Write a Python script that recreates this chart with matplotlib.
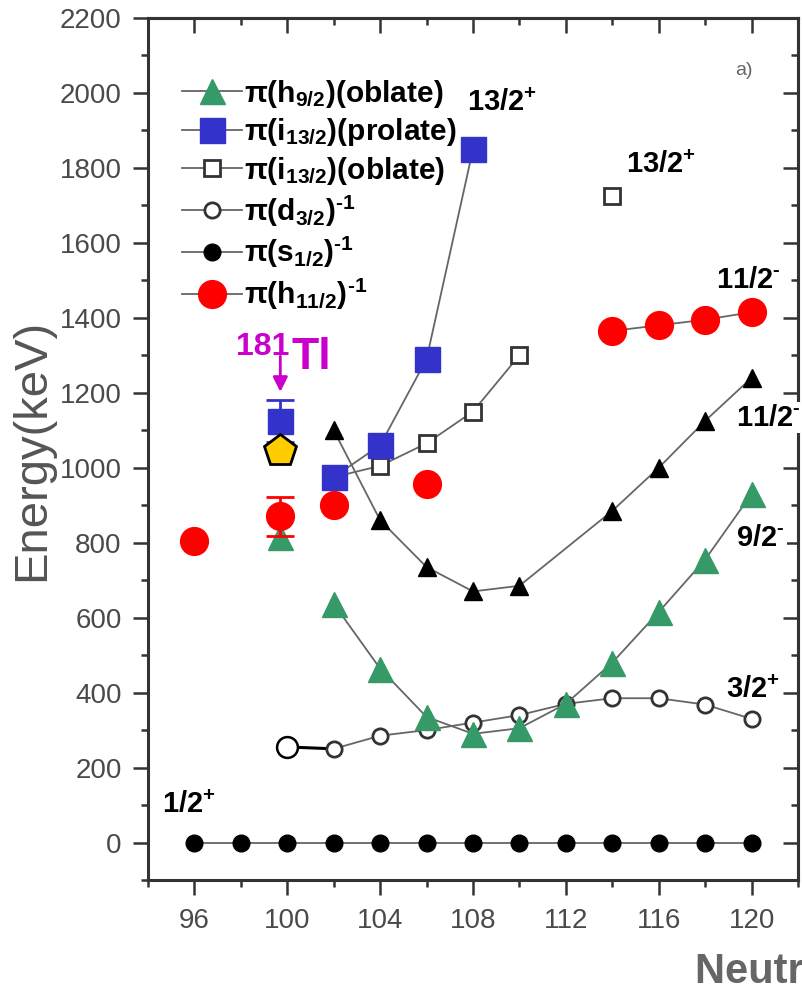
import matplotlib
matplotlib.use("Agg")
import matplotlib.pyplot as plt
from matplotlib.lines import Line2D
from matplotlib.ticker import MultipleLocator

plt.rcParams['mathtext.fontset'] = 'custom'
plt.rcParams['mathtext.rm'] = 'Liberation Sans:bold'
plt.rcParams['mathtext.it'] = 'Liberation Sans:bold'
plt.rcParams['mathtext.bf'] = 'Liberation Sans:bold'
plt.rcParams['mathtext.default'] = 'rm'

# systematics of proton intruder / hole states in odd-Tl isotopes
n_s12 = [96, 98, 100, 102, 104, 106, 108, 110, 112, 114, 116, 118, 120]
e_s12 = [0, 0, 0, 0, 0, 0, 0, 0, 0, 0, 0, 0, 0]

n_d32 = [102, 104, 106, 108, 110, 112, 114, 116, 118, 120]
e_d32 = [250, 285, 300, 320, 340, 370, 385, 385, 368, 330]
n_d32_181 = [100, 102]
e_d32_181 = [255, 250]

n_h92 = [102, 104, 106, 108, 110, 112, 114, 116, 118, 120]
e_h92 = [637, 464, 335, 290, 305, 370, 480, 615, 755, 930]

n_i13p = [102, 104, 106, 108]
e_i13p = [975, 1060, 1290, 1850]

n_i13o = [102, 104, 106, 108, 110]
e_i13o = [975, 1005, 1065, 1150, 1300]
n_i13o_iso = [114]
e_i13o_iso = [1725]

n_h112 = [114, 116, 118, 120]
e_h112 = [1365, 1380, 1395, 1415]
n_h112_iso = [96, 102, 106]
e_h112_iso = [805, 900, 957]

n_112m = [102, 104, 106, 108, 110, 114, 116, 118, 120]
e_112m = [1100, 860, 735, 670, 685, 885, 1000, 1125, 1240]

# 181Tl values
n_tl = 99.7
e_tl_i13, err_tl_i13 = 1125, 55
e_tl_pent = 1045
e_tl_h112, err_tl_h112 = 870, 53
e_tl_h92 = 815

GREEN = '#359a67'
BLUE = '#3333cc'
RED = '#ff0000'
MAG = '#cc00cc'
LINE = '#666666'
AXC = '#333333'
HY = '\u2010'  # short hyphen for negative parity

fig = plt.figure(figsize=(8.03, 9.94), dpi=100)
ax = fig.add_axes([148 / 803, 1 - 880 / 994, 650 / 803, 862 / 994])

ax.plot(n_s12, e_s12, '-o', color=LINE, lw=1.3, mfc='black', mec='black', ms=12, zorder=3)
ax.plot(n_d32_181, e_d32_181, '-', color='black', lw=2.2, zorder=3)
ax.plot(n_d32_181[:1], e_d32_181[:1], 'o', mfc='white', mec='black', mew=1.8, ms=15, zorder=4)
ax.plot(n_d32, e_d32, '-o', color=LINE, lw=1.3, mfc='white', mec='#333333', mew=2, ms=11, zorder=3)
ax.plot(n_112m, e_112m, '-^', color=LINE, lw=1.3, mfc='black', mec='black', ms=13, zorder=3)
ax.plot(n_i13o, e_i13o, '-s', color=LINE, lw=1.3, mfc='white', mec='#333333', mew=2, ms=11, zorder=3)
ax.plot(n_i13o_iso, e_i13o_iso, 's', mfc='white', mec='#333333', mew=2, ms=11, zorder=3)
ax.plot(n_h92, e_h92, '-^', color=LINE, lw=1.3, mfc=GREEN, mec=GREEN, ms=18, zorder=3)
ax.plot(n_i13p, e_i13p, '-s', color=LINE, lw=1.3, mfc=BLUE, mec=BLUE, ms=18, zorder=3)
ax.plot(n_h112, e_h112, '-o', color=LINE, lw=1.3, mfc=RED, mec=RED, ms=20, zorder=3)
ax.plot(n_h112_iso, e_h112_iso, 'o', mfc=RED, mec=RED, ms=20, zorder=3)

# 181Tl points with error bars
ax.plot([n_tl], [e_tl_h92], '^', mfc=GREEN, mec=GREEN, ms=18, zorder=3)
ax.errorbar([n_tl], [e_tl_i13], yerr=[err_tl_i13], fmt='s', color=BLUE, ms=18,
            capsize=10, capthick=2, elinewidth=2, zorder=4)
ax.errorbar([n_tl], [e_tl_h112], yerr=[err_tl_h112], fmt='o', color=RED, ms=20,
            capsize=10, capthick=2, elinewidth=2, zorder=4)
ax.plot([n_tl], [e_tl_pent], 'p', mfc='#ffcc00', mec='black', mew=2, ms=24, zorder=5)

ax.annotate('', xy=(n_tl, 1195), xytext=(n_tl, 1305),
            arrowprops=dict(arrowstyle='-|>', color=MAG, lw=2, mutation_scale=22))
ax.text(97.8, 1323, '181', color=MAG, fontsize=23, fontweight='bold',
        family='Liberation Sans', va='center', ha='left')
ax.text(100.2, 1293, 'Tl', color=MAG, fontsize=32, fontweight='bold',
        family='Liberation Sans', va='center', ha='left')

lvl = dict(fontsize=21, fontweight='bold', family='Liberation Sans', color='black',
           va='center', ha='left', zorder=6, clip_on=False,
           bbox=dict(fc='white', ec='none', pad=1))
ax.text(107.75, 1973, r'13/2$^{+}$', **lvl)
ax.text(114.6, 1808, r'13/2$^{+}$', **lvl)
ax.text(118.45, 1501, '11/2$^{' + HY + '}$', **lvl)
ax.text(119.35, 1133, '11/2$^{' + HY + '}$', **lvl)
ax.text(119.35, 813, '9/2$^{' + HY + '}$', **lvl)
ax.text(118.9, 408, r'3/2$^{+}$', **lvl)
ax.text(94.6, 101, r'1/2$^{+}$', **lvl)
ax.text(119.3, 2060, 'a)', fontsize=14, color='#666666', family='Liberation Sans',
        va='center', ha='left')

handles = [
    Line2D([], [], color=LINE, lw=1.3, marker='^', mfc=GREEN, mec=GREEN, ms=18),
    Line2D([], [], color=LINE, lw=1.3, marker='s', mfc=BLUE, mec=BLUE, ms=18),
    Line2D([], [], color=LINE, lw=1.3, marker='s', mfc='white', mec='#333333', mew=2, ms=11),
    Line2D([], [], color=LINE, lw=1.3, marker='o', mfc='white', mec='#333333', mew=2, ms=11),
    Line2D([], [], color=LINE, lw=1.3, marker='o', mfc='black', mec='black', ms=12),
    Line2D([], [], color=LINE, lw=1.3, marker='o', mfc=RED, mec=RED, ms=20),
]
labels = [r'$\pi(h_{9/2})(oblate)$', r'$\pi(i_{13/2})(prolate)$', r'$\pi(i_{13/2})(oblate)$',
          '$\\pi(d_{3/2})^{' + HY + '1}$', '$\\pi(s_{1/2})^{' + HY + '1}$',
          '$\\pi(h_{11/2})^{' + HY + '1}$']
leg = ax.legend(handles, labels, loc='upper left', bbox_to_anchor=(0.03, 0.948),
                frameon=False, fontsize=21.5, handlelength=2.0, handletextpad=0.05,
                labelspacing=0.22, borderpad=0)

ax.set_xlim(94, 122)
ax.set_ylim(-100, 2200)
ax.xaxis.set_major_locator(MultipleLocator(4))
ax.xaxis.set_minor_locator(MultipleLocator(2))
ax.yaxis.set_major_locator(MultipleLocator(200))
ax.yaxis.set_minor_locator(MultipleLocator(100))
ax.tick_params(which='both', direction='out', color=AXC, width=1.8,
               labelsize=20, labelcolor='#4a4a4a')
ax.tick_params(which='major', length=11)
ax.tick_params(which='minor', length=5)
ax.tick_params(axis='y', pad=8)
ax.tick_params(axis='x', pad=9)
for lab in ax.get_xticklabels() + ax.get_yticklabels():
    lab.set_family('Liberation Sans')
for s in ax.spines.values():
    s.set_color(AXC)
    s.set_linewidth(2.2)

# top and right ticks point inward
sec_x = ax.secondary_xaxis('top')
sec_x.xaxis.set_major_locator(MultipleLocator(4))
sec_x.xaxis.set_minor_locator(MultipleLocator(2))
sec_x.tick_params(which='both', direction='in', color=AXC, width=1.8, labeltop=False)
sec_x.tick_params(which='major', length=11)
sec_x.tick_params(which='minor', length=5)
sec_x.spines['top'].set_linewidth(2.2)
sec_x.spines['top'].set_color(AXC)
sec_y = ax.secondary_yaxis('right')
sec_y.yaxis.set_major_locator(MultipleLocator(200))
sec_y.yaxis.set_minor_locator(MultipleLocator(100))
sec_y.tick_params(which='both', direction='in', color=AXC, width=1.8, labelright=False)
sec_y.tick_params(which='major', length=11)
sec_y.tick_params(which='minor', length=5)
sec_y.spines['right'].set_linewidth(2.2)
sec_y.spines['right'].set_color(AXC)

fig.text(32 / 803, 1 - 450 / 994, 'Energy(keV)', rotation=90, fontsize=34,
         family='Liberation Sans', color='#555555', ha='center', va='center')
fig.text(695 / 803, 1 - 972 / 994, 'Neutron number', fontsize=30, fontweight='bold',
         family='Liberation Sans', color='#666666', ha='left', va='center')

fig.savefig('out.png', dpi=100)
